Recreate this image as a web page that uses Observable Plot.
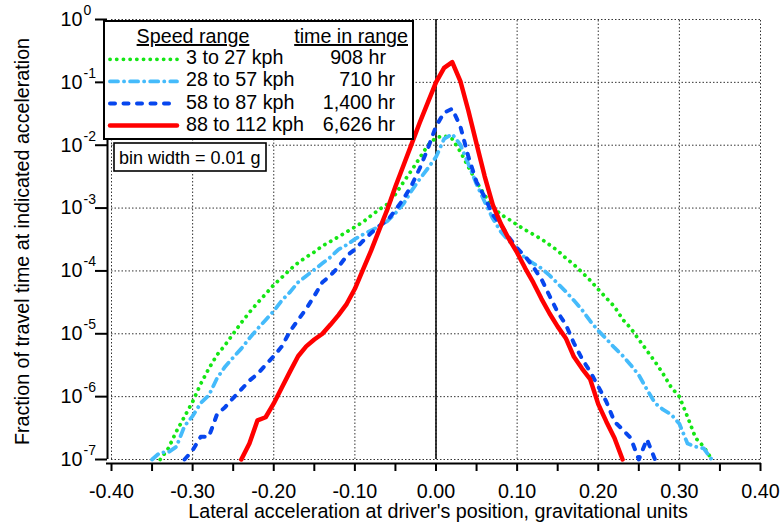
<!DOCTYPE html>
<html><head><meta charset="utf-8">
<script src="https://cdn.jsdelivr.net/npm/d3@7"></script>
<script src="https://cdn.jsdelivr.net/npm/@observablehq/plot@0.6"></script>
<style>
body{margin:0;background:#fff;}
#chart{width:780px;height:531px;}
</style></head><body><div id="chart"></div>
<script>
// lateral acceleration bins (g)
const accel = [
 -0.35,-0.34,-0.33,-0.32,-0.31,-0.30,-0.29,-0.28,-0.27,-0.26,
 -0.25,-0.24,-0.23,-0.22,-0.21,-0.20,-0.19,-0.18,-0.17,-0.16,
 -0.15,-0.14,-0.13,-0.12,-0.11,-0.10,-0.09,-0.08,-0.07,-0.06,
 -0.05,-0.04,-0.03,-0.02,-0.01,0.00,0.01,0.02,0.03,0.04,
 0.05,0.06,0.07,0.08,0.09,0.10,0.11,0.12,0.13,0.14,
 0.15,0.16,0.17,0.18,0.19,0.20,0.21,0.22,0.23,0.24,
 0.25,0.26,0.27,0.28,0.29,0.30,0.31,0.32,0.33,0.34
];
// 3 to 27 kph
const speed3to27 = [
 null,1.0e-7,1.5e-7,2.8e-7,4.8e-7,8.3e-7,1.6e-6,2.8e-6,4.6e-6,6.6e-6,
 1.0e-5,1.5e-5,2.2e-5,3.1e-5,4.3e-5,6.0e-5,7.9e-5,1.05e-4,1.35e-4,1.66e-4,
 2.0e-4,2.5e-4,2.95e-4,3.5e-4,4.2e-4,5.0e-4,6.0e-4,7.6e-4,9.5e-4,1.15e-3,
 1.66e-3,2.6e-3,4.0e-3,6.3e-3,1.0e-2,1.32e-2,1.41e-2,1.26e-2,7.9e-3,4.5e-3,
 2.6e-3,1.6e-3,1.05e-3,7.9e-4,6.6e-4,5.4e-4,4.5e-4,3.8e-4,3.2e-4,2.6e-4,
 2.1e-4,1.6e-4,1.26e-4,9.5e-5,7.1e-5,5.1e-5,3.7e-5,2.7e-5,1.7e-5,1.23e-5,
 8.1e-6,5.4e-6,3.6e-6,2.3e-6,1.4e-6,1.0e-6,4.8e-7,2.2e-7,1.6e-7,1.0e-7
];
// 28 to 57 kph
const speed28to57 = [
 1.0e-7,1.3e-7,1.3e-7,1.6e-7,3.4e-7,4.9e-7,7.9e-7,1.05e-6,1.95e-6,3.0e-6,
 4.2e-6,5.8e-6,8.5e-6,1.2e-5,1.66e-5,2.3e-5,3.4e-5,4.6e-5,6.6e-5,8.3e-5,
 1.05e-4,1.32e-4,1.66e-4,2.2e-4,2.6e-4,3.2e-4,3.8e-4,4.4e-4,5.1e-4,6.2e-4,
 8.3e-4,1.17e-3,1.9e-3,2.9e-3,4.3e-3,6.5e-3,1.26e-2,1.5e-2,1.02e-2,5.0e-3,
 2.4e-3,1.26e-3,6.8e-4,4.2e-4,3.0e-4,2.2e-4,1.6e-4,1.32e-4,1.1e-4,8.5e-5,
 6.3e-5,4.7e-5,3.4e-5,2.4e-5,1.6e-5,1.12e-5,8.3e-6,6.0e-6,4.5e-6,3.2e-6,
 2.2e-6,1.3e-6,7.9e-7,6.2e-7,5.2e-7,3.7e-7,1.8e-7,1.6e-7,1.5e-7,1.0e-7
];
// 58 to 87 kph
const speed58to87 = [
 null,null,null,null,1.0e-7,1.4e-7,2.3e-7,2.3e-7,5.2e-7,6.8e-7,
 9.5e-7,1.3e-6,1.8e-6,2.3e-6,3.2e-6,4.4e-6,6.3e-6,1.1e-5,1.66e-5,2.5e-5,
 4.0e-5,6.6e-5,8.5e-5,1.17e-4,1.74e-4,2.2e-4,3.0e-4,4.0e-4,5.2e-4,6.3e-4,
 9.3e-4,1.4e-3,2.3e-3,4.3e-3,8.9e-3,2.0e-2,3.3e-2,3.8e-2,2.0e-2,6.5e-3,
 2.6e-3,1.5e-3,7.8e-4,5.4e-4,3.4e-4,2.3e-4,1.7e-4,1.15e-4,7.4e-5,4.0e-5,
 2.2e-5,1.4e-5,7.1e-6,4.0e-6,2.5e-6,1.45e-6,8.3e-7,4.0e-7,3.0e-7,2.2e-7,
 1.0e-7,2.1e-7,1.0e-7,null,null,null,null,null,null,null
];
// 88 to 112 kph
const speed88to112 = [
 null,null,null,null,null,null,null,null,null,null,
 null,1.0e-7,1.8e-7,4.2e-7,4.7e-7,7.8e-7,1.4e-6,2.5e-6,4.4e-6,6.3e-6,
 8.1e-6,1.0e-5,1.4e-5,2.0e-5,3.0e-5,5.2e-5,1.05e-4,2.1e-4,4.5e-4,9.5e-4,
 2.2e-3,4.8e-3,1.05e-2,2.3e-2,4.8e-2,1.0e-1,0.17,0.21,0.105,3.5e-2,
 1.05e-2,3.2e-3,1.12e-3,5.6e-4,3.2e-4,1.95e-4,1.1e-4,6.5e-5,3.6e-5,2.1e-5,
 1.3e-5,8.5e-6,4.3e-6,2.8e-6,1.9e-6,7.6e-7,4.0e-7,2.2e-7,1.0e-7,null,
 null,null,null,null,null,null,null,null,null,null
];

const speedRanges = ["3 to 27 kph","28 to 57 kph","58 to 87 kph","88 to 112 kph"];
const timeInRange = ["908 hr","710 hr","1,400 hr","6,626 hr"];
const legendHeaders = ["Speed range","time in range"];
const binNote = "bin width = 0.01 g";
const xMajorTicks = [-0.4,-0.3,-0.2,-0.1,0,0.1,0.2,0.3,0.4];
const xTickLabels = ["-0.40","-0.30","-0.20","-0.10","0.00","0.10","0.20","0.30","0.40"];
const xMinorTicks = [-0.35,-0.25,-0.15,-0.05,0.05,0.15,0.25,0.35];
const yTicks = [1,1e-1,1e-2,1e-3,1e-4,1e-5,1e-6,1e-7];
const yExponents = ["0","-1","-2","-3","-4","-5","-6","-7"];
const xTitle = "Lateral acceleration at driver's position, gravitational units";
const yTitle = "Fraction of travel time at indicated acceleration";

const FONT = "Arial, 'Liberation Sans', sans-serif";
const styles = [
  {stroke:"#14e614", width:3.8, dash:"0.1,6.6"},
  {stroke:"#45bbfb", width:3.8, dash:"8,6,0.1,6"},
  {stroke:"#0746ee", width:4,   dash:"5,8.5"},
  {stroke:"#ff0000", width:4.5, dash:null}
];
const seriesValues = [speed3to27, speed28to57, speed58to87, speed88to112];

const lineMarks = seriesValues.map((vals, k) => {
  const rows = accel.map((x,i) => ({x, y: vals[i]})).filter(d => d.y != null);
  const o = {x:"x", y:"y", stroke: styles[k].stroke, strokeWidth: styles[k].width,
             strokeLinecap:"round", strokeLinejoin:"round"};
  if (styles[k].dash) o.strokeDasharray = styles[k].dash;
  return Plot.line(rows, o);
});

const grid = {stroke:"#333", strokeOpacity:1, strokeWidth:1, strokeDasharray:"1.5,2"};

const chart = Plot.plot({
  width: 780, height: 531,
  marginLeft: 107, marginRight: 20, marginTop: 19, marginBottom: 68,
  style: {fontFamily: FONT, fontSize: "19.7px", background: "white", color: "black"},
  x: {domain: [-0.4, 0.4], insetLeft: 4},
  y: {type: "log", domain: [1e-7, 1], insetBottom: 4},
  marks: [
    Plot.ruleY(yTicks, {x1: -0.4, x2: 0.4, ...grid}),
    Plot.ruleX(xMajorTicks, {y1: 1e-7, y2: 1, ...grid}),
    Plot.ruleX([0], {y1: 1e-7, y2: 1, stroke: "black", strokeWidth: 1.5}),
    ...lineMarks,
    Plot.ruleX([-0.4], {y1: 1e-7, y2: 1, dx: -4, insetBottom: -4, stroke: "black", strokeWidth: 2}),
    Plot.ruleY([1e-7], {x1: -0.4, x2: 0.4, dy: 4, insetLeft: -5, insetRight: -1, stroke: "black", strokeWidth: 2}),
    Plot.axisX({ticks: xMajorTicks, anchor: "bottom", tickSize: 8, tickPadding: 12, strokeWidth: 2,
                tickFormat: (d) => xTickLabels[xMajorTicks.indexOf(d)], label: null}),
    Plot.axisX({ticks: xMinorTicks, anchor: "bottom", tickSize: 8, strokeWidth: 2, tickFormat: () => "", label: null}),
    Plot.axisY({ticks: yTicks, anchor: "left", tickSize: 12, strokeWidth: 2, tickFormat: () => "", label: null}),
    Plot.text(yTicks, {y: d => d, text: () => "10", frameAnchor: "left", textAnchor: "end", dx: -25, fontSize: 19.7}),
    Plot.text(yTicks, {y: d => d, text: (d, i) => yExponents[i], frameAnchor: "left", textAnchor: "start", dx: -24, dy: -9, fontSize: 14}),
    Plot.text([xTitle], {text: d => d, frameAnchor: "bottom", textAnchor: "middle", dy: 54, dx: 4, fontSize: 19.7}),
    Plot.text([yTitle], {text: d => d, frameAnchor: "left", textAnchor: "middle", dx: -85, rotate: -90, fontSize: 19.7})
  ]
});
document.getElementById("chart").appendChild(chart);

// in-plot legend box
const svg = d3.select(chart);
const lg = svg.append("g").attr("font-family", FONT).attr("font-size", 19.7).attr("fill", "black").attr("text-anchor", "start");
lg.append("rect").attr("x", 104).attr("y", 21).attr("width", 309).attr("height", 118)
  .attr("fill", "white").attr("stroke", "black").attr("stroke-width", 2);
lg.append("text").attr("x", 193).attr("y", 43).attr("text-anchor", "middle")
  .attr("text-decoration", "underline").text(legendHeaders[0]);
lg.append("text").attr("x", 408).attr("y", 43).attr("text-anchor", "end")
  .attr("text-decoration", "underline").text(legendHeaders[1]);
speedRanges.forEach((name, i) => {
  const base = 64.3 + 22.1 * i;
  const ln = lg.append("line").attr("x1", 110).attr("x2", 177).attr("y1", base - 5).attr("y2", base - 5)
    .attr("stroke", styles[i].stroke).attr("stroke-width", styles[i].width).attr("stroke-linecap", "round");
  if (styles[i].dash) ln.attr("stroke-dasharray", styles[i].dash);
  lg.append("text").attr("x", 186).attr("y", base).attr("text-anchor", "start").text(name);
  lg.append("text").attr("x", i === 0 ? 386 : 395).attr("y", base).attr("text-anchor", "end").text(timeInRange[i]);
});
const bg = svg.append("g").attr("font-family", FONT).attr("font-size", 18).attr("text-anchor", "start");
bg.append("rect").attr("x", 114).attr("y", 143).attr("width", 152).attr("height", 28)
  .attr("fill", "white").attr("stroke", "black").attr("stroke-width", 1.6);
bg.append("text").attr("x", 119).attr("y", 163.5).attr("text-anchor", "start").text(binNote);
</script></body></html>
